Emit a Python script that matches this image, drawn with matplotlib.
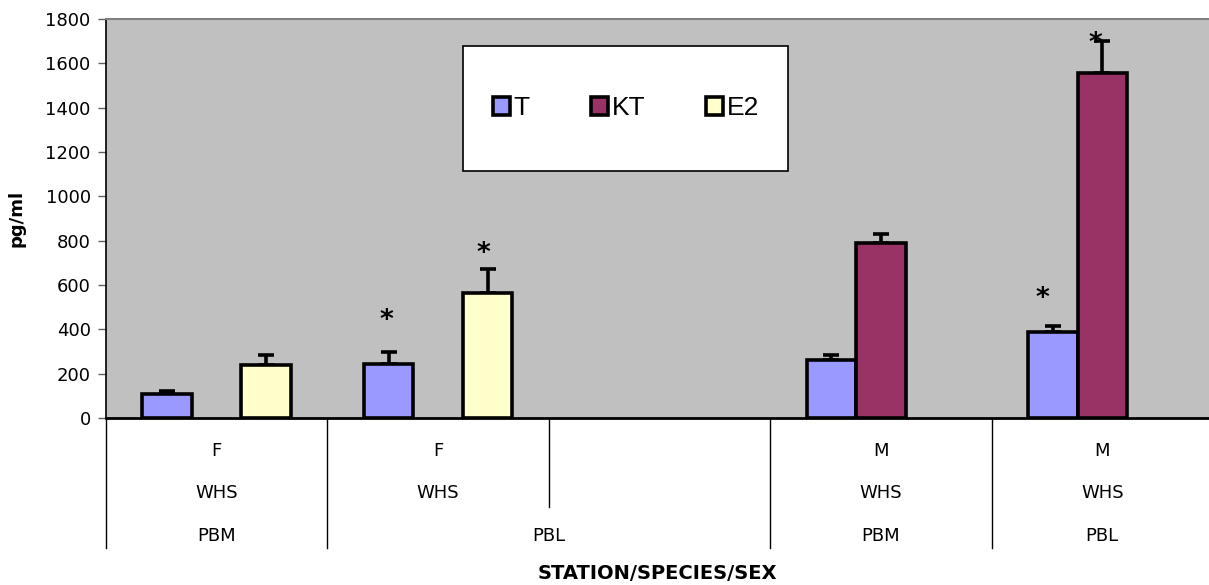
import numpy as np
import matplotlib.pyplot as plt
from matplotlib.patches import Rectangle
from matplotlib.transforms import blended_transform_factory

plt.rcParams['font.family'] = ['DejaVu Sans']

# hormone levels per station/species/sex group
sexo = ['F', 'F', '', 'M', 'M']
especie = ['WHS', 'WHS', '', 'WHS', 'WHS']
estacao = ['PBM', 'PBL', 'PBM', 'PBL']
estacao_pos = [0, 1.5, 3, 4]

T = [110, 242, np.nan, 262, 389]
T_err = [12, 57, np.nan, 22, 27]
KT = [np.nan, np.nan, np.nan, 788, 1555]
KT_err = [np.nan, np.nan, np.nan, 42, 145]
E2 = [238, 565, np.nan, np.nan, np.nan]
E2_err = [45, 107, np.nan, np.nan, np.nan]

# (grupo, serie) com diferenca significativa
signif = [(1, 'T'), (1, 'E2'), (4, 'T'), (4, 'KT')]

series = {'T': (T, T_err, '#9999FF'),
          'KT': (KT, KT_err, '#993366'),
          'E2': (E2, E2_err, '#FFFFCC')}

fig = plt.figure(figsize=(12.09, 5.85), dpi=100)
ax = fig.add_axes([106 / 1209, 167 / 585, 1107 / 1209, 399 / 585])
ax.set_facecolor('#C0C0C0')

x = np.arange(5)
w = 0.224
offsets = {'T': -w, 'KT': 0, 'E2': w}
for nome, (vals, errs, cor) in series.items():
    vals = np.array(vals, dtype=float)
    errs = np.array(errs, dtype=float)
    ok = ~np.isnan(vals)
    xs = x[ok] + offsets[nome]
    ax.bar(xs, vals[ok], width=w, color=cor, edgecolor='black', linewidth=2.6,
           label=nome, zorder=3)
    ax.errorbar(xs, vals[ok], yerr=[np.zeros(ok.sum()), errs[ok]], fmt='none',
                ecolor='black', elinewidth=2.6, capsize=6, capthick=2.6, zorder=2)

# asteriscos acima das barras
star_off = {(1, 'T'): 22, (1, 'E2'): 11, (4, 'T'): 19, (4, 'KT'): -2}
star_dx = {(1, 'T'): -0.01, (1, 'E2'): -0.02, (4, 'T'): -0.045, (4, 'KT'): -0.03}
for g, nome in signif:
    vals, errs, _ = series[nome]
    topo = vals[g] + errs[g]
    ax.annotate('*', (x[g] + offsets[nome] + star_dx[(g, nome)], topo),
                xytext=(0, star_off[(g, nome)]), textcoords='offset points',
                ha='center', va='center', fontsize=19, fontweight='bold', zorder=4)

ax.set_xlim(-0.5, 4.5)
ax.set_ylim(0, 1800)
ax.set_yticks(range(0, 1801, 200))
ax.tick_params(axis='y', labelsize=13, length=6, width=1, color='#606060', pad=5)
ax.set_xticks([])
ax.spines['left'].set_linewidth(1.2)
ax.spines['bottom'].set_linewidth(2)
ax.spines['top'].set_color('#808080')
ax.spines['top'].set_linewidth(1.5)
ax.spines['right'].set_visible(False)
ax.set_ylabel('pg/ml', fontsize=13, fontweight='bold', labelpad=14)

# rotulos hierarquicos do eixo x
trans = blended_transform_factory(ax.transData, ax.transAxes)
for xi, lim in zip([-0.5, 0.5, 1.5, 2.5, 3.5], [-0.326, -0.326, -0.223, -0.326, -0.326]):
    ax.plot([xi, xi], [0, lim], color='black', lw=1, transform=trans, clip_on=False)
for xi, s, e in zip(x, sexo, especie):
    ax.text(xi, -0.082, s, transform=trans, ha='center', va='center', fontsize=13)
    ax.text(xi, -0.187, e, transform=trans, ha='center', va='center', fontsize=13)
for xi, st in zip(estacao_pos, estacao):
    ax.text(xi, -0.295, st, transform=trans, ha='center', va='center', fontsize=13)
ax.text(0.5 * 1103 / 1107, -0.390, 'STATION/SPECIES/SEX', transform=ax.transAxes,
        ha='center', va='center', fontsize=14, fontweight='bold')

# legenda com moldura branca
caixa = Rectangle((463 / 1209, 1 - 171 / 585), 325 / 1209, 125 / 585,
                  transform=fig.transFigure, facecolor='white', edgecolor='black',
                  linewidth=1.2, zorder=5)
fig.patches.append(caixa)
leg = fig.legend(loc='center', bbox_to_anchor=(626 / 1209, 1 - 108 / 585), ncol=3,
                 frameon=False, prop={'family': 'Liberation Sans', 'size': 19},
                 handlelength=0.65, handleheight=0.65,
                 handletextpad=0.15, columnspacing=2.3)
leg.set_zorder(6)

fig.savefig('out.png', dpi=100)
